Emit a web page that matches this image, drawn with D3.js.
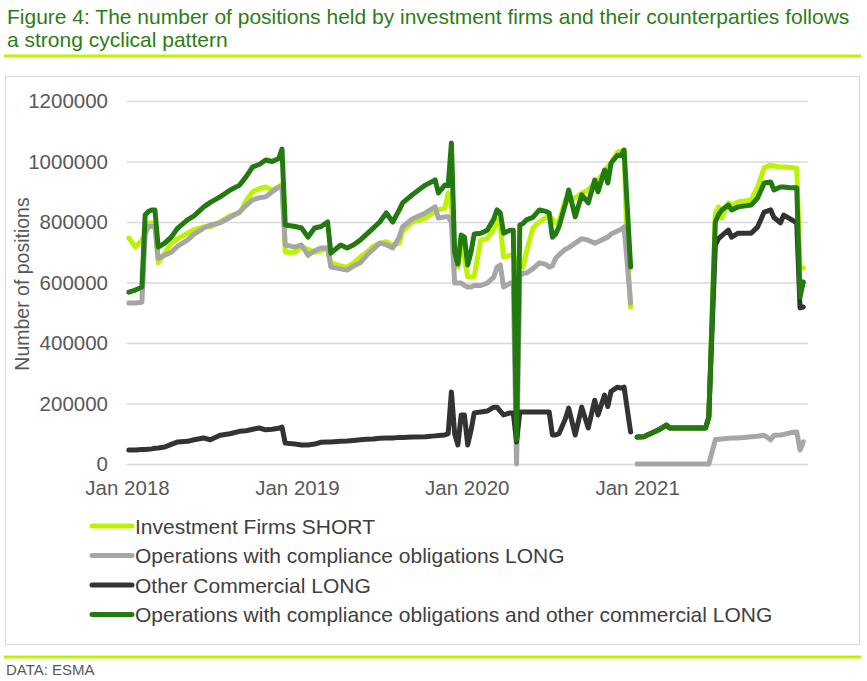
<!DOCTYPE html>
<html>
<head>
<meta charset="utf-8">
<script src="https://cdn.jsdelivr.net/npm/d3@7"></script>
<style>
  body { margin: 0; background: #fff; }
  text { font-family: "Liberation Sans", Arial, sans-serif; }
</style>
</head>
<body>
<svg id="chart" width="867" height="681"></svg>
<script>
// week index counted from the first Friday of 2018; values in thousands of positions
const weeks = [
  0, 2, 4, 5, 6, 7, 8, 9, 11, 13, 15, 18, 20, 23, 25, 28, 31, 34, 36, 38, 40, 42, 44, 46, 47, 48, 51,
  53, 55, 57, 59, 61, 62, 65, 67, 69, 71, 73, 75, 77, 79, 81, 83, 84, 87, 91, 94, 95, 97, 98, 99, 100, 101,
  102, 103, 104, 105, 106, 108, 110, 112, 113, 114, 115, 117, 118, 119, 120, 121, 122, 124, 126, 128, 129,
  130, 131, 132, 134, 135, 137, 139, 141, 143, 144, 146, 147, 148, 150, 151, 152, 153, 154, 155,
  156, 158, 160, 163, 165, 166, 171, 175, 177, 178, 180, 181, 182, 184, 185, 187, 191, 193, 195, 197, 198,
  200, 201, 203, 205, 206, 207
];

const investmentShort = [
  747, 717, 740, 760, 797, 797, 790, 665, 697, 730, 745, 763, 775, 784, 784, 800, 820, 830, 870, 900, 910, 916, 905, 916, 925, 700, 700,
  717, 710, 700, 705, 715, 665, 655, 651, 665, 684, 700, 720, 730, 735, 724, 730, 770, 800, 813, 835, 840, 846, 896, 850, 700, 651,
  750, 680, 618, 618, 620, 740, 745, 775, 807, 790, 684, 690, 690, 660, 655, 651, 700, 780, 800, 815, 823,
  810, 797, 800, 873, 870, 880, 895, 906, 930, 939, 965, 982, 995, 1031, 1035, 1035, 700, 519, null,
  89, 90, 100, 115, 129, 119, 119, 119, 119, 150, 830, 850, 813, 863, 855, 866, 873, 916, 979, 988, 985,
  982, 982, 980, 978, 648, 648
];

const complianceLong = [
  532, 532, 535, 760, 785, 785, 785, 680, 690, 700, 720, 740, 760, 780, 790, 797, 815, 833, 855, 873, 880, 883, 900, 916, 916, 724, 717,
  724, 690, 705, 714, 714, 651, 645, 641, 655, 665, 690, 710, 730, 725, 714, 750, 784, 810, 830, 850, 813, 817, 817, 800, 598, 598,
  598, 590, 585, 585, 590, 590, 598, 618, 650, 658, 585, 598, 598, 0, 620, 631, 631, 645, 665, 660, 651,
  655, 680, 691, 710, 715, 730, 745, 740, 730, 735, 745, 750, 760, 770, 775, 784, 660, 532, null,
  0, 0, 0, 0, 0, 0, 0, 0, 0, 0, 80, 82, 83, 85, 86, 86, 90, 92, 95, 80, 95,
  96, 98, 103, 106, 46, 73
];

const otherCommercialLong = [
  46, 46, 48, 48, 49, 50, 52, 53, 56, 65, 73, 75, 80, 86, 80, 95, 100, 108, 110, 115, 119, 113, 115, 118, 122, 69, 66,
  63, 63, 66, 72, 73, 73, 75, 76, 78, 80, 82, 83, 85, 86, 86, 88, 88, 89, 90, 93, 94, 96, 100, 238, 100, 63,
  162, 162, 63, 110, 169, 172, 175, 188, 188, 175, 162, 169, 169, 73, 172, 172, 172, 172, 172, 172, 172,
  96, 96, 100, 150, 185, 96, 188, 119, 211, 162, 228, 190, 240, 254, 251, 254, 180, 106, null,
  89, 90, 100, 115, 129, 119, 119, 119, 119, 155, 724, 745, 755, 773, 750, 763, 763, 784, 833, 840, 815,
  797, 823, 810, 797, 516, 519
];

const combinedLong = [
  568, 575, 585, 823, 835, 840, 840, 717, 730, 750, 780, 807, 820, 850, 865, 883, 905, 922, 950, 982, 990, 1005, 1000, 1010, 1041, 790, 785,
  780, 750, 780, 785, 800, 697, 724, 714, 725, 740, 760, 780, 800, 830, 800, 840, 863, 890, 922, 939, 896, 922, 920, 1061, 700, 661,
  757, 750, 658, 700, 760, 763, 773, 810, 840, 830, 763, 773, 773, 80, 790, 795, 807, 815, 840, 835, 830,
  750, 760, 784, 860, 906, 817, 890, 863, 939, 900, 972, 929, 995, 1021, 1020, 1038, 845, 651, null,
  89, 90, 100, 115, 129, 119, 119, 119, 119, 155, 800, 825, 840, 856, 840, 850, 856, 880, 929, 932, 906,
  916, 916, 913, 913, 552, 602
];

const seriesNames = [
  "Investment Firms SHORT",
  "Operations with compliance obligations LONG",
  "Other Commercial LONG",
  "Operations with compliance obligations and other commercial LONG"
];
const seriesColors = ["#bdf300", "#a6a6a6", "#333333", "#237a10"];
const yTicks = [0, 200000, 400000, 600000, 800000, 1000000, 1200000];
const xTickYears = [2018, 2019, 2020, 2021];

const UNIT = 1000;
const firstWeek = new Date(2018, 0, 5);
const dates = weeks.map(w => d3.timeDay.offset(firstWeek, w * 7));
const allValues = [investmentShort, complianceLong, otherCommercialLong, combinedLong];

const svg = d3.select('#chart');
const W = 867, H = 681;
const plot = { left: 127, right: 807, top: 101, bottom: 464 };
const FONT = '"Liberation Sans", Arial, sans-serif';

svg.append('rect').attr('width', W).attr('height', H).attr('fill', '#fff');

// title
const title = svg.append('text')
  .attr('x', 7).attr('y', 24)
  .attr('fill', '#2d7d16')
  .attr('font-size', 21);
title.append('tspan').attr('x', 7).attr('dy', 0)
  .text('Figure 4: The number of positions held by investment firms and their counterparties follows');
title.append('tspan').attr('x', 7).attr('dy', 23)
  .text('a strong cyclical pattern');

svg.append('line')
  .attr('x1', 4).attr('x2', 861).attr('y1', 56).attr('y2', 56)
  .attr('stroke', '#bdf300').attr('stroke-width', 3);

// chart frame
svg.append('rect')
  .attr('x', 5.5).attr('y', 76.5).attr('width', 854).attr('height', 568)
  .attr('fill', 'none').attr('stroke', '#d9d9d9').attr('stroke-width', 1);

const x = d3.scaleTime()
  .domain([new Date(2018, 0, 1), new Date(2022, 0, 1)])
  .range([plot.left, plot.right]);
const y = d3.scaleLinear()
  .domain([0, 1200000])
  .range([plot.bottom, plot.top]);

// gridlines + y labels
const yAxis = svg.append('g')
  .attr('transform', `translate(${plot.left},0)`)
  .call(d3.axisLeft(y).tickValues(yTicks).tickSize(-(plot.right + 1 - plot.left)).tickPadding(19).tickFormat(d3.format('d')));
yAxis.select('.domain').remove();
yAxis.selectAll('.tick line').attr('stroke', '#d9d9d9').attr('stroke-width', 1.3);
yAxis.selectAll('.tick text')
  .attr('fill', '#595959').attr('font-size', 20.5)
  .style('font-family', FONT);

// x labels
const xAxis = svg.append('g')
  .attr('transform', `translate(0,${plot.bottom})`)
  .call(d3.axisBottom(x)
    .tickValues(xTickYears.map(yr => new Date(yr, 0, 1)))
    .tickSize(0).tickPadding(16)
    .tickFormat(d3.timeFormat('%b %Y')));
xAxis.select('.domain').remove();
xAxis.selectAll('.tick text')
  .attr('fill', '#595959').attr('font-size', 20.5)
  .style('font-family', FONT);

svg.append('text')
  .attr('transform', 'translate(29,284) rotate(-90)')
  .attr('text-anchor', 'middle')
  .attr('fill', '#595959').attr('font-size', 19.5)
  .text('Number of positions');

// series
const line = d3.line()
  .defined(d => d.v != null)
  .x(d => x(d.date))
  .y(d => y(d.v * UNIT));

allValues.forEach((vals, i) => {
  const pts = vals.map((v, j) => ({ date: dates[j], v: v }));
  svg.append('path')
    .datum(pts)
    .attr('d', line)
    .attr('fill', 'none')
    .attr('stroke', seriesColors[i])
    .attr('stroke-width', 5)
    .attr('stroke-linejoin', 'round')
    .attr('stroke-linecap', 'round');
});

// legend
const legend = svg.append('g');
seriesNames.forEach((name, i) => {
  const ly = 526 + i * 29.5;
  legend.append('line')
    .attr('x1', 92).attr('x2', 132).attr('y1', ly).attr('y2', ly)
    .attr('stroke', seriesColors[i]).attr('stroke-width', 5)
    .attr('stroke-linecap', 'round');
  legend.append('text')
    .attr('x', 135).attr('y', ly + 7.5)
    .attr('fill', '#404040').attr('font-size', 21)
    .text(name);
});

// footer
svg.append('line')
  .attr('x1', 4).attr('x2', 861).attr('y1', 657).attr('y2', 657)
  .attr('stroke', '#bdf300').attr('stroke-width', 3);
svg.append('text')
  .attr('x', 6).attr('y', 675)
  .attr('fill', '#595959').attr('font-size', 15)
  .text('DATA: ESMA');
</script>
</body>
</html>
